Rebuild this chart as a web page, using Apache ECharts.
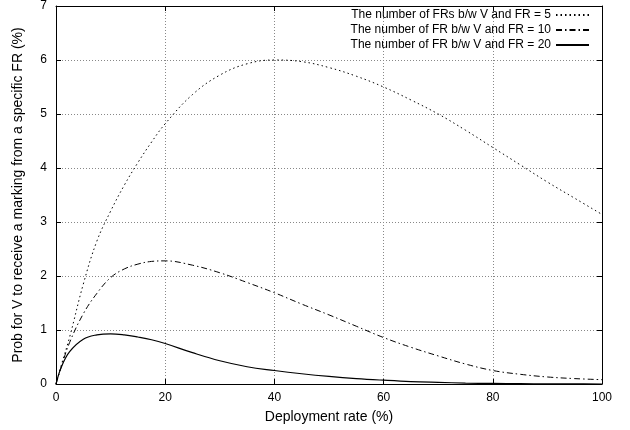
<!DOCTYPE html>
<html>
<head>
<meta charset="utf-8">
<script src="https://cdn.jsdelivr.net/npm/echarts@6/dist/echarts.min.js"></script>
<style>
html,body{margin:0;padding:0;background:#fff;}
#chart{width:630px;height:430px;}
</style>
</head>
<body>
<div id="chart"></div>
<script>
// deployment rate (%)
var rates = [0, 1, 2.5, 5, 7.5, 10, 12.5, 15, 17.5, 20, 25, 30, 35, 40, 45, 50, 55, 60, 65, 70, 75, 80, 85, 90, 95, 100];
// prob (%)
var fr5  = [0, 0.36, 0.87, 1.85, 2.65, 3.2, 3.68, 4.1, 4.48, 4.82, 5.36, 5.72, 5.93, 6.0, 5.97, 5.86, 5.70, 5.50, 5.26, 5.0, 4.70, 4.38, 4.06, 3.74, 3.44, 3.14];
var fr10 = [0, 0.33, 0.77, 1.3, 1.68, 1.97, 2.13, 2.22, 2.27, 2.28, 2.2, 2.06, 1.88, 1.69, 1.48, 1.28, 1.07, 0.86, 0.68, 0.52, 0.37, 0.25, 0.18, 0.13, 0.1, 0.08];
var fr20 = [0, 0.32, 0.6, 0.83, 0.91, 0.93, 0.91, 0.87, 0.82, 0.75, 0.58, 0.43, 0.32, 0.25, 0.19, 0.14, 0.1, 0.07, 0.045, 0.03, 0.018, 0.01, 0.006, 0.003, 0.001, 0];
var names = ['The number of FRs b/w V and FR = 5', 'The number of FR b/w V and FR = 10', 'The number of FR b/w V and FR = 20'];

var chart = echarts.init(document.getElementById('chart'), null, {renderer: 'canvas'});
var font = '"Liberation Sans", Arial, sans-serif';

function pairs(ys){
    var out = [];
    for (var i = 0; i < rates.length; i++) {
        out.push([rates[i], ys[i]]);
    }
    return out;
}

function axisBase(show){
    return {
        axisLine: {show: true, onZero: false, lineStyle: {color: '#000', width: 1}},
        axisTick: {show: true, inside: true, length: 5, lineStyle: {color: '#000'}},
        axisLabel: {show: show, color: '#000', fontFamily: font, fontSize: 12},
        splitLine: {show: false}
    };
}

var styles = [
    {type: [1.5, 3], width: 1},
    {type: [6, 3, 1.5, 3], width: 1},
    {type: 'solid', width: 1.2}
];
var datas = [fr5, fr10, fr20];

var series = [];
for (var i = 0; i < 3; i++) {
    series.push({
        name: names[i],
        type: 'line',
        data: pairs(datas[i]),
        smooth: 0.4,
        symbol: 'none',
        lineStyle: {color: '#000', width: styles[i].width, type: styles[i].type},
        itemStyle: {color: '#000'}
    });
}

//图例放在右上角，文字在左，线样在右
var legend = {
    data: names,
    orient: 'vertical',
    right: 40,
    top: 9,
    align: 'right',
    itemGap: 3,
    itemWidth: 33,
    itemHeight: 10,
    padding: 0,
    itemStyle: {opacity: 0},
    textStyle: {color: '#000', fontFamily: font, fontSize: 12},
    selectedMode: false
};

var xBottom = axisBase(true);
xBottom.type = 'value'; xBottom.min = 0; xBottom.max = 100; xBottom.interval = 20;
xBottom.position = 'bottom';
xBottom.name = 'Deployment rate (%)';
xBottom.nameLocation = 'middle';
xBottom.nameGap = 26;
xBottom.nameTextStyle = {color: '#000', fontFamily: font, fontSize: 14};
xBottom.axisLabel.margin = 8;
xBottom.splitLine = {show: true, lineStyle: {color: '#888', width: 1, type: [1, 2]}};

var xTop = axisBase(false);
xTop.type = 'value'; xTop.min = 0; xTop.max = 100; xTop.interval = 20; xTop.position = 'top';

var yLeft = axisBase(true);
yLeft.type = 'value'; yLeft.min = 0; yLeft.max = 7; yLeft.interval = 1;
yLeft.position = 'left';
yLeft.name = 'Prob for V to receive a marking from a specific FR (%)';
yLeft.nameLocation = 'middle';
yLeft.nameGap = 31;
yLeft.nameTextStyle = {color: '#000', fontFamily: font, fontSize: 14};
yLeft.axisLabel.margin = 9;
yLeft.splitLine = {show: true, lineStyle: {color: '#888', width: 1, type: [1, 2]}};

var yRight = axisBase(false);
yRight.type = 'value'; yRight.min = 0; yRight.max = 7; yRight.interval = 1; yRight.position = 'right';

chart.setOption({
    animation: false,
    backgroundColor: '#fff',
    grid: {left: 56, right: 28, top: 5, bottom: 46, containLabel: false},
    legend: legend,
    xAxis: [xBottom, xTop],
    yAxis: [yLeft, yRight],
    series: series
});
</script>
</body>
</html>
